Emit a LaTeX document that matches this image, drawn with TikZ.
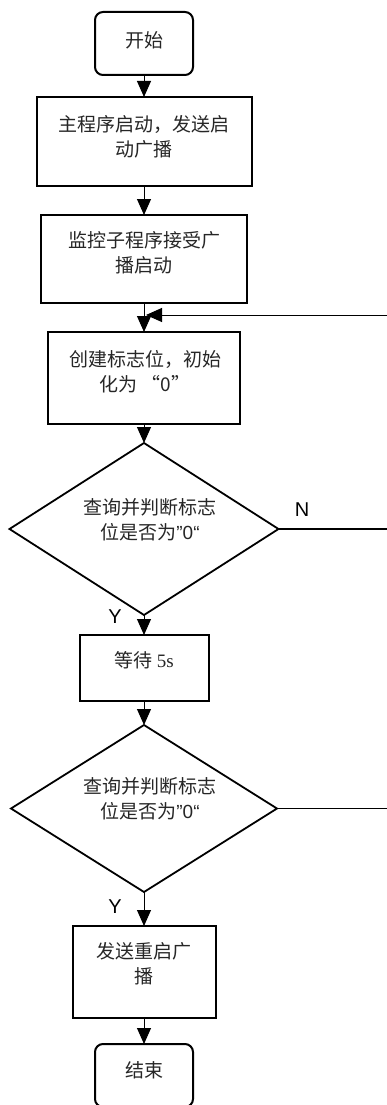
\documentclass[tikz,border=0pt]{standalone}
\usepackage{fontspec}
\setmainfont{Liberation Serif}
\newfontfamily\cjk{Noto Sans CJK SC}
\newfontfamily\lsans{Liberation Sans}
\usetikzlibrary{shapes.geometric,arrows.meta}
\begin{document}
\begin{tikzpicture}[x=1pt,y=-1pt,
  every node/.style={inner sep=0pt,outer sep=0pt},
  procbox/.style={draw,line width=2pt,rectangle},
  termbox/.style={draw,line width=2pt,rectangle,rounded corners=8pt},
  decbox/.style={draw,line width=1.8pt,diamond},
  txt/.style={align=center,text=black!85,font=\cjk\fontsize{19}{25}\selectfont},
  yn/.style={font=\lsans\fontsize{20}{22}\selectfont},
  arr/.style={line width=1pt,-{Triangle[width=14pt,length=16pt]}},
  side/.style={line width=1.5pt}]
\useasboundingbox (0,0) rectangle (387,1105);
% shapes
\node[termbox,minimum width=98pt,minimum height=63pt] (s) at (144,43.5) {};
\node[procbox,minimum width=215pt,minimum height=89pt] (b2) at (144,141.5) {};
\node[procbox,minimum width=206pt,minimum height=88pt] (b3) at (144,259) {};
\node[procbox,minimum width=192pt,minimum height=92pt] (b4) at (144,378) {};
\node[decbox,minimum width=269pt,minimum height=172pt] (d1) at (144,529) {};
\node[procbox,minimum width=129pt,minimum height=66pt] (b5) at (144,668) {};
\node[decbox,minimum width=266pt,minimum height=167pt] (d2) at (144,808.5) {};
\node[procbox,minimum width=143pt,minimum height=92pt] (b6) at (144,972) {};
\node[termbox,minimum width=98pt,minimum height=63pt] (e) at (144,1075.5) {};
% texts
\node[txt] (t1) at (144,40) {开始};
\node[txt] (t2) at (144,137) {主程序启动，发送启\\动广播};
\node[txt] (t3) at (144,252.5) {监控子程序接受广\\播启动};
\node[txt] (t4) at (145,371.5) {创建标志位，初始\\化为 “0”};
\node[txt] (td1) at (150,519.5) {查询并判断标志\\位是否为{\lsans ”0“}};
\node[txt] (t5) at (144,660) {等待{\rmfamily\ 5s}};
\node[txt] (td2) at (150,798.5) {查询并判断标志\\位是否为{\lsans ”0“}};
\node[txt] (t6) at (144,964) {发送重启广\\播};
\node[txt] (t7) at (144,1070) {结束};
% labels
\node[yn] (ln) at (302,510) {N};
\node[yn] (ly1) at (115,617) {Y};
\node[yn] (ly2) at (115,907) {Y};
% free ends
\coordinate (lr) at (392,315);
\coordinate (lt) at (146,315);
\coordinate (n1) at (392,529);
\coordinate (n2) at (392,808.5);
% connectors
\draw[arr] (s.south) -- (b2.north);
\draw[arr] (b2.south) -- (b3.north);
\draw[arr] (b3.south) -- (b4.north);
\draw[arr] (b4.south) -- (d1.north);
\draw[arr] (d1.south) -- (b5.north);
\draw[arr] (b5.south) -- (d2.north);
\draw[arr] (d2.south) -- (b6.north);
\draw[arr] (b6.south) -- (e.north);
\draw[arr] (lr) -- (lt);
\draw[side] (d1.east) -- (n1);
\draw[side] (d2.east) -- (n2);
\end{tikzpicture}
\end{document}
